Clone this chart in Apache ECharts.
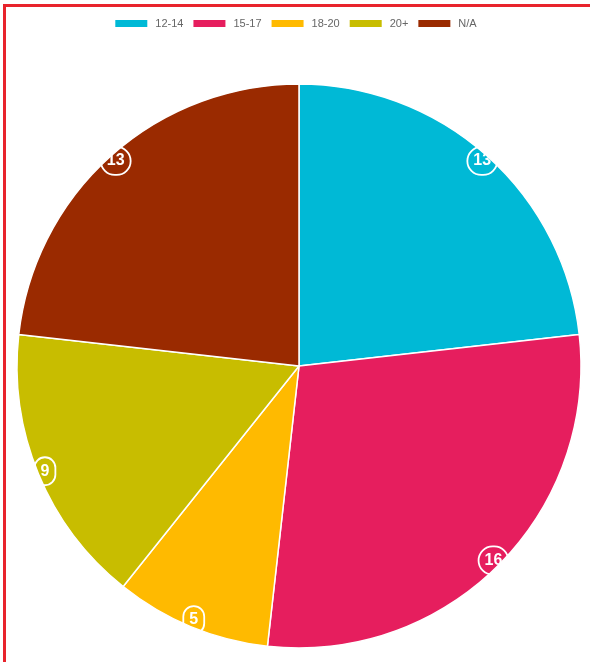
<!DOCTYPE html>
<html>
<head>
<meta charset="utf-8">
<script src="https://cdn.jsdelivr.net/npm/echarts@6/dist/echarts.min.js"></script>
<style>
  html, body { margin: 0; padding: 0; background: #fff; }
  #frame { position: absolute; left: 3px; top: 4px; width: 587px; height: 658px;
           border-top: 3px solid #e8232c; border-left: 3px solid #e8232c; box-sizing: border-box; }
  #chart { position: absolute; left: 0; top: 0; width: 590px; height: 662px; }
</style>
</head>
<body>
<div id="chart"></div>
<div id="frame"></div>
<script>
// Age groups and their counts
const categories = ['12-14', '15-17', '18-20', '20+', 'N/A'];
const counts = [13, 16, 5, 9, 13];
const palette = ['#00b9d6', '#e61e5e', '#ffba00', '#c8bd00', '#9a2a00'];

const sliceData = categories.map((name, i) => ({
  name: name,
  value: counts[i],
  itemStyle: { color: palette[i] }
}));

// Thin ring carrying only the value badges near the rim
const badgeData = categories.map((name, i) => ({
  name: name,
  value: counts[i]
}));

const chart = echarts.init(document.getElementById('chart'), null, { renderer: 'canvas' });

chart.setOption({
  animation: false,
  legend: {
    data: categories,
    top: 13,
    left: 'center',
    itemWidth: 34,
    itemHeight: 9,
    itemGap: 8,
    icon: 'rect',
    textStyle: { color: '#666', fontSize: 11, fontFamily: 'Liberation Sans, Arial, sans-serif', padding: [0, 0, 0, 2] }
  },
  series: [
    {
      type: 'pie',
      center: [299, 366],
      radius: [0, 282],
      startAngle: 90,
      clockwise: true,
      label: { show: false },
      labelLine: { show: false },
      itemStyle: { borderColor: '#fff', borderWidth: 1.5 },
      emphasis: { disabled: true },
      data: sliceData
    },
    {
      type: 'pie',
      center: [299, 366],
      radius: [258, 286],
      startAngle: 90,
      clockwise: true,
      silent: true,
      avoidLabelOverlap: false,
      z: 3,
      itemStyle: { color: 'rgba(0,0,0,0)', borderWidth: 0 },
      emphasis: { disabled: true },
      labelLine: { show: false },
      label: {
        show: true,
        position: 'inside',
        overflow: 'none',
        formatter: '{c}',
        color: '#fff',
        fontWeight: 'bold',
        fontSize: 16,
        lineHeight: 17,
        fontFamily: 'Liberation Sans, Arial, sans-serif',
        borderColor: '#fff',
        borderWidth: 1.8,
        borderRadius: 14,
        padding: [6, 6, 5, 6]
      },
      data: badgeData
    }
  ]
});
</script>
</body>
</html>
